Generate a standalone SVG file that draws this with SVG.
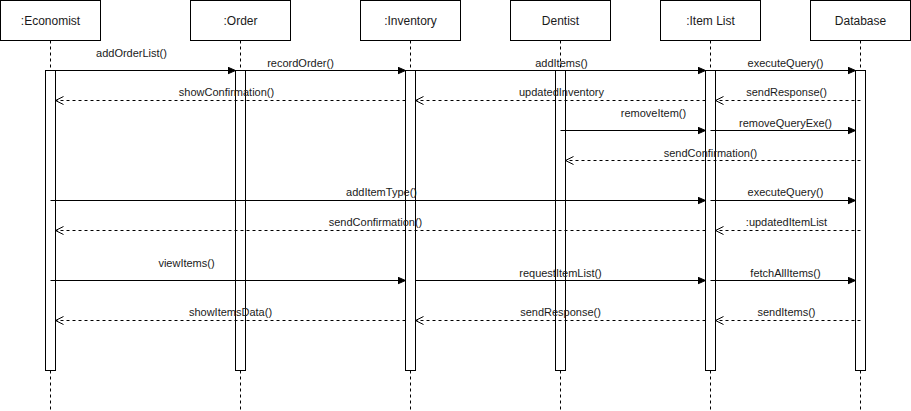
<svg xmlns="http://www.w3.org/2000/svg" width="911" height="411" viewBox="0 0 911 411">
<style>
.box{fill:#fff;stroke:#000;stroke-width:1}
.life{stroke:#000;stroke-width:1;stroke-dasharray:3 3;fill:none}
.bar{fill:#fff;stroke:#000;stroke-width:1}
.msg{stroke:#000;stroke-width:1;fill:none;marker-end:url(#block)}
.ret{stroke:#000;stroke-width:1;fill:none;stroke-dasharray:3 3;marker-end:url(#open)}
.hd{font-family:"Liberation Sans",Arial,sans-serif;font-size:12px;fill:#1a1a1a;text-anchor:middle}
.lb{font-family:"Liberation Sans",Arial,sans-serif;font-size:11px;fill:#1a1a1a;text-anchor:middle}
</style>
<defs>
<marker id="block" markerUnits="userSpaceOnUse" markerWidth="9" markerHeight="8" refX="8" refY="3.5" orient="auto" viewBox="0 0 9 8">
<path d="M0,0 L8,3.5 L0,7 z" fill="#000" stroke="#000" stroke-width="1"/>
</marker>
<marker id="open" markerUnits="userSpaceOnUse" markerWidth="10" markerHeight="10" refX="8" refY="4.5" orient="auto" viewBox="0 0 10 10">
<path d="M0,0.5 L8,4.5 L0,8.5" fill="none" stroke="#000" stroke-width="1" stroke-dasharray="none"/>
</marker>
</defs>
<rect width="911" height="411" fill="#fff"/>
<g transform="translate(0.5,0.5)">
<g id="lifelines">
<line class="life" x1="50" y1="40" x2="50" y2="411"/>
<line class="life" x1="240" y1="40" x2="240" y2="411"/>
<line class="life" x1="410" y1="40" x2="410" y2="411"/>
<line class="life" x1="560" y1="40" x2="560" y2="411"/>
<line class="life" x1="710" y1="40" x2="710" y2="411"/>
<line class="life" x1="860" y1="40" x2="860" y2="411"/>
</g>
<g id="economist"><rect class="box" x="0" y="0" width="100" height="40"/><text class="hd" x="50" y="24">:Economist</text><rect class="bar" x="45" y="70" width="10" height="300"/></g>
<g id="order"><rect class="box" x="190" y="0" width="100" height="40"/><text class="hd" x="240" y="24">:Order</text><rect class="bar" x="235" y="70" width="10" height="300"/></g>
<g id="inventory"><rect class="box" x="360" y="0" width="100" height="40"/><text class="hd" x="410" y="24">:Inventory</text><rect class="bar" x="405" y="70" width="10" height="300"/></g>
<g id="dentist"><rect class="box" x="510" y="0" width="100" height="40"/><text class="hd" x="560" y="24">Dentist</text><rect class="bar" x="555" y="70" width="10" height="300"/></g>
<g id="itemlist"><rect class="box" x="660" y="0" width="100" height="40"/><text class="hd" x="710" y="24">:Item List</text><rect class="bar" x="705" y="70" width="10" height="300"/></g>
<g id="database"><rect class="box" x="810" y="0" width="100" height="40"/><text class="hd" x="860" y="24">Database</text><rect class="bar" x="855" y="70" width="10" height="300"/></g>
<g id="connectors">
<line class="msg" x1="55" y1="70" x2="235" y2="70"/>
<line class="msg" x1="245" y1="70" x2="405" y2="70"/>
<line class="msg" x1="415" y1="70" x2="705" y2="70"/>
<line class="msg" x1="715" y1="70" x2="855" y2="70"/>
<line class="ret" x1="405" y1="100" x2="55" y2="100"/>
<line class="ret" x1="705" y1="100" x2="415" y2="100"/>
<line class="ret" x1="860" y1="100" x2="715" y2="100"/>
<line class="msg" x1="560" y1="130" x2="705" y2="130"/>
<line class="msg" x1="710" y1="130" x2="855" y2="130"/>
<line class="ret" x1="860" y1="160" x2="565" y2="160"/>
<line class="msg" x1="50" y1="200" x2="705" y2="200"/>
<line class="msg" x1="710" y1="200" x2="855" y2="200"/>
<line class="ret" x1="705" y1="230" x2="55" y2="230"/>
<line class="ret" x1="860" y1="230" x2="715" y2="230"/>
<line class="msg" x1="50" y1="280" x2="405" y2="280"/>
<line class="msg" x1="415" y1="280" x2="705" y2="280"/>
<line class="msg" x1="710" y1="280" x2="855" y2="280"/>
<line class="ret" x1="405" y1="320" x2="55" y2="320"/>
<line class="ret" x1="705" y1="320" x2="415" y2="320"/>
<line class="ret" x1="860" y1="320" x2="715" y2="320"/>
</g>
<g id="labels">
<text class="lb" x="131" y="56">addOrderList()</text>
<text class="lb" x="300" y="66">recordOrder()</text>
<text class="lb" x="561" y="66">addItems()</text>
<text class="lb" x="785" y="66">executeQuery()</text>
<text class="lb" x="226" y="95">showConfirmation()</text>
<text class="lb" x="561" y="95">updatedInventory</text>
<text class="lb" x="786" y="95">sendResponse()</text>
<text class="lb" x="653" y="116">removeItem()</text>
<text class="lb" x="785" y="126">removeQueryExe()</text>
<text class="lb" x="710" y="156">sendConfirmation()</text>
<text class="lb" x="381" y="195">addItemType()</text>
<text class="lb" x="785" y="195">executeQuery()</text>
<text class="lb" x="375" y="225">sendConfirmation()</text>
<text class="lb" x="786" y="225">:updatedItemList</text>
<text class="lb" x="186" y="266">viewItems()</text>
<text class="lb" x="560" y="276">requestItemList()</text>
<text class="lb" x="785" y="276">fetchAllItems()</text>
<text class="lb" x="230" y="315">showItemsData()</text>
<text class="lb" x="560" y="315">sendResponse()</text>
<text class="lb" x="786" y="315">sendItems()</text>
</g>
</g>
</svg>
